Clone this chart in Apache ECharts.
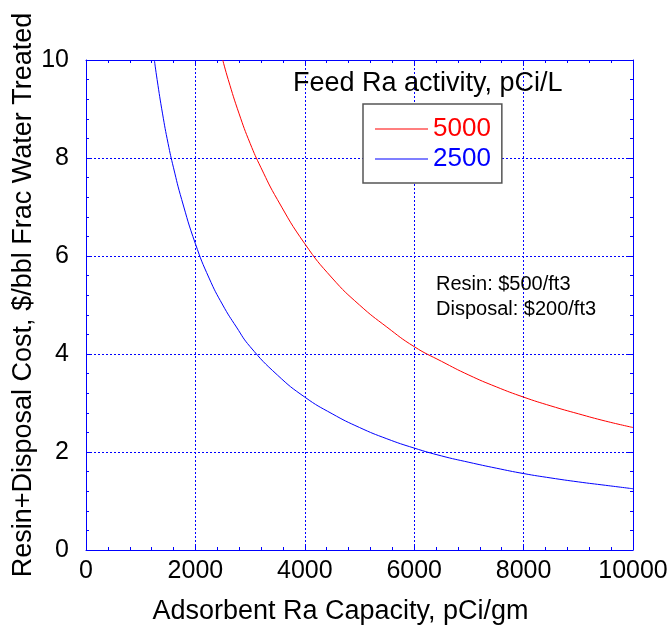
<!DOCTYPE html>
<html><head><meta charset="utf-8">
<script src="https://cdn.jsdelivr.net/npm/echarts@6/dist/echarts.min.js"></script>
<style>html,body{margin:0;padding:0;background:#fff}#c{width:670px;height:629px}</style>
</head><body><div id="c"></div>
<script>
const xTicks = [0, 2000, 4000, 6000, 8000, 10000];
const yTicks = [0, 2, 4, 6, 8, 10];
const seriesNames = ['5000', '2500'];
const redX = [2500, 2600, 2800, 3000, 3200, 3500, 4000, 4500, 5000, 5500, 6000, 6500, 7000, 7500, 8000, 8500, 9000, 9500, 10000];
const redY = [10, 9.6, 8.9, 8.3, 7.8, 7.15, 6.25, 5.55, 5.0, 4.55, 4.15, 3.85, 3.57, 3.33, 3.12, 2.94, 2.78, 2.63, 2.5];
const blueX = [1250, 1300, 1400, 1500, 1600, 1750, 2000, 2250, 2500, 2750, 3000, 3500, 4000, 4500, 5000, 5500, 6000, 6500, 7000, 7500, 8000, 8500, 9000, 9500, 10000];
const blueY = [10, 9.6, 8.9, 8.3, 7.8, 7.15, 6.25, 5.55, 5.0, 4.55, 4.15, 3.57, 3.12, 2.78, 2.5, 2.27, 2.08, 1.92, 1.79, 1.67, 1.56, 1.47, 1.39, 1.32, 1.25];
const notes = ['Resin: $500/ft3', 'Disposal: $200/ft3'];
const yTitle = 'Resin+Disposal Cost, $/bbl Frac Water Treated';

const font = '"Liberation Sans", Arial, sans-serif';
const chart = echarts.init(document.getElementById('c'), null, {renderer: 'canvas'});
const pair = (xs, ys) => xs.map((x, i) => [x, ys[i]]);
const BLUE = '#0000ff';
function axis(extra) {
  return Object.assign({
    type: 'value',
    axisLine: {show: true, onZero: false, lineStyle: {color: BLUE, width: 1}},
    axisTick: {show: true, inside: true, length: 5, lineStyle: {color: BLUE, width: 1}},
    minorTick: {show: true, splitNumber: 5, length: 3, lineStyle: {color: BLUE, width: 1}},
    splitLine: {show: false},
    axisLabel: {show: false},
    nameTextStyle: {color: '#000', fontFamily: font}
  }, extra);
}
const labelStyle = {show: true, color: '#000', fontSize: 25, fontFamily: font, formatter: v => String(v)};
chart.setOption({
  animation: false,
  grid: {left: 86, right: 37, top: 60, bottom: 79, containLabel: false, outerBoundsMode: 'none'},
  xAxis: [
    axis({
      position: 'bottom', min: xTicks[0], max: xTicks[xTicks.length - 1], interval: 2000,
      name: 'Adsorbent Ra Capacity, pCi/gm', nameLocation: 'middle', nameGap: 48,
      nameTextStyle: {color: '#000', fontFamily: font, fontSize: 27, padding: [0, 38, 0, 0]},
      splitLine: {show: true, lineStyle: {color: BLUE, type: [2, 2], width: 1}},
      axisLabel: Object.assign({}, labelStyle, {margin: 9})
    }),
    axis({position: 'top', min: xTicks[0], max: xTicks[xTicks.length - 1], interval: 2000})
  ],
  yAxis: [
    axis({
      position: 'left', min: yTicks[0], max: yTicks[yTicks.length - 1], interval: 2,
      splitLine: {show: true, lineStyle: {color: BLUE, type: [2, 2], width: 1}},
      axisLabel: Object.assign({}, labelStyle, {margin: 17})
    }),
    axis({position: 'right', min: yTicks[0], max: yTicks[yTicks.length - 1], interval: 2})
  ],
  legend: {
    orient: 'vertical', left: 363, top: 104,
    backgroundColor: '#fff', borderColor: '#555', borderWidth: 1.5,
    padding: [12, 11, 11, 12], itemGap: 4, itemWidth: 53, itemHeight: 1,
    icon: 'rect',
    textStyle: {fontSize: 26, fontFamily: font},
    data: [
      {name: seriesNames[0], textStyle: {color: '#ff0000'}},
      {name: seriesNames[1], textStyle: {color: BLUE}}
    ]
  },
  graphic: [
    {type: 'text', x: 24, y: 295, rotation: Math.PI / 2, z: 10,
      style: {text: yTitle, font: '27px ' + font, fill: '#000', align: 'center', verticalAlign: 'middle'}},
    {type: 'text', left: 293, top: 70, z: 10, style: {text: 'Feed Ra activity, pCi/L', font: '27px ' + font, fill: '#000'}},
    {type: 'text', left: 436, top: 274, z: 10, style: {text: notes[0], font: '20px ' + font, fill: '#000'}},
    {type: 'text', left: 436, top: 299, z: 10, style: {text: notes[1], font: '20px ' + font, fill: '#000'}}
  ],
  series: [
    {name: seriesNames[0], type: 'line', symbol: 'none', smooth: true, data: pair(redX, redY), lineStyle: {color: '#ff0000', width: 1}, itemStyle: {color: '#ff0000'}},
    {name: seriesNames[1], type: 'line', symbol: 'none', smooth: true, data: pair(blueX, blueY), lineStyle: {color: BLUE, width: 1}, itemStyle: {color: BLUE}}
  ]
});
</script></body></html>
